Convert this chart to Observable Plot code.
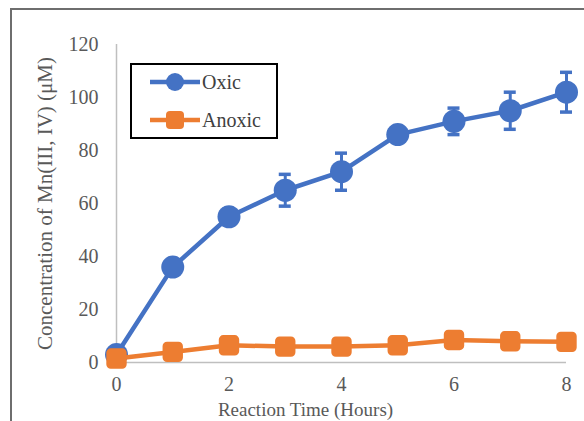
<!DOCTYPE html>
<html><head><meta charset="utf-8">
<script src="https://cdn.jsdelivr.net/npm/d3@7"></script>
<script src="https://cdn.jsdelivr.net/npm/@observablehq/plot@0.6"></script>
<style>
body{margin:0;background:#fff;}
#wrap{position:relative;width:584px;height:421px;overflow:hidden;background:#fff;}
#wrap svg.plot{position:absolute;left:0;top:0;}
#frame{position:absolute;left:10px;top:8px;width:700px;height:600px;border:2px solid #6e6e6e;box-sizing:border-box;}
#legend{position:absolute;left:130px;top:63px;width:148px;height:76px;border:2px solid #000;box-sizing:border-box;background:#fff;}
</style></head><body>
<div id="wrap"><div id="frame"></div><div id="legend"></div></div>
<script>
const hours = [0, 1, 2, 3, 4, 5, 6, 7, 8];
const oxic = [3, 36, 55, 65, 72, 86, 91, 95, 102];
const oxicErr = [0, 0, 3, 6, 7, 1, 5, 7, 7.5];
const anoxic = [1.5, 4, 6.5, 6, 6, 6.5, 8.5, 8, 7.8];
const seriesNames = ["Oxic", "Anoxic"];
const seriesColors = ["#4472C4", "#ED7D31"];
const xTicks = [0, 2, 4, 6, 8];
const yTicks = [0, 20, 40, 60, 80, 100, 120];
const xTitle = "Reaction Time (Hours)";
const yTitle = "Concentration of Mn(III, IV) (μM)";

const oxicData = hours.map((h, i) => ({x: h, y: oxic[i], e: oxicErr[i]}));
const anoxicData = hours.map((h, i) => ({x: h, y: anoxic[i]}));
const errData = oxicData.filter(d => d.e > 0);

const roundSquare = {
  draw(context, size) {
    const s = Math.sqrt(size), h = s / 2, r = s * 0.22;
    context.moveTo(-h + r, -h);
    context.arcTo(h, -h, h, h, r);
    context.arcTo(h, h, -h, h, r);
    context.arcTo(-h, h, -h, -h, r);
    context.arcTo(-h, -h, h, -h, r);
    context.closePath();
  }
};

const font = "'Liberation Serif', 'Times New Roman', serif";
const grey = "#595959";

const chart = Plot.plot({
  width: 584, height: 421,
  marginLeft: 116, marginRight: 18, marginTop: 44, marginBottom: 59,
  style: {fontFamily: font, background: "transparent"},
  x: {domain: [0, 8]},
  y: {domain: [0, 120]},
  marks: [
    Plot.ruleX([0], {y1: 0, y2: 120, stroke: "#BFBFBF", strokeWidth: 1.5}),
    Plot.ruleY([0], {stroke: "#BFBFBF", strokeWidth: 1.5}),
    Plot.axisX({ticks: xTicks, tickSize: 0, tickPadding: 14, fontSize: 20, color: grey, label: null, tickFormat: d => d}),
    Plot.axisY({ticks: yTicks, tickSize: 0, tickPadding: 18, fontSize: 20, color: grey, label: null, tickFormat: d => d}),
    Plot.text([xTitle], {frameAnchor: "bottom", dy: 47, dx: -36, fontSize: 19, fill: grey, lineAnchor: "middle", textAnchor: "middle"}),
    Plot.text([yTitle], {frameAnchor: "left", dx: -71, rotate: -90, fontSize: 21, fill: grey, lineAnchor: "middle", textAnchor: "middle"}),
    Plot.ruleX(errData, {x: "x", y1: d => d.y - d.e, y2: d => d.y + d.e, stroke: seriesColors[0], strokeWidth: 3}),
    Plot.ruleY(errData, {y: d => d.y + d.e, x1: "x", x2: "x", insetLeft: -6, insetRight: -6, stroke: seriesColors[0], strokeWidth: 3.5}),
    Plot.ruleY(errData, {y: d => d.y - d.e, x1: "x", x2: "x", insetLeft: -6, insetRight: -6, stroke: seriesColors[0], strokeWidth: 3.5}),
    Plot.line(oxicData, {x: "x", y: "y", stroke: seriesColors[0], strokeWidth: 4.5}),
    Plot.dot(oxicData, {x: "x", y: "y", r: 11.5, fill: seriesColors[0], stroke: null}),
    Plot.line(anoxicData, {x: "x", y: "y", stroke: seriesColors[1], strokeWidth: 4.5}),
    Plot.dot(anoxicData, {x: "x", y: "y", r: 11.5, symbol: roundSquare, fill: seriesColors[1], stroke: null})
  ]
});
chart.classList.add("plot");
const wrap = document.getElementById("wrap");
wrap.insertBefore(chart, wrap.firstChild);

// legend
const lg = d3.select("#legend").append("svg").attr("width", 144).attr("height", 72)
  .style("font-family", font);
seriesNames.forEach((name, i) => {
  const cy = 17 + i * 38;
  const g = lg.append("g");
  g.append("line").attr("x1", 18).attr("x2", 68).attr("y1", cy).attr("y2", cy)
    .attr("stroke", seriesColors[i]).attr("stroke-width", 4.5);
  if (i === 0) {
    g.append("circle").attr("cx", 43).attr("cy", cy).attr("r", 9).attr("fill", seriesColors[i]);
  } else {
    g.append("rect").attr("x", 34).attr("y", cy - 9).attr("width", 18).attr("height", 18)
      .attr("rx", 4).attr("fill", seriesColors[i]);
  }
  g.append("text").attr("x", 70).attr("y", cy).attr("dy", "0.35em")
    .attr("font-size", 20).attr("fill", "#404040").text(name);
});
</script>
</body></html>
